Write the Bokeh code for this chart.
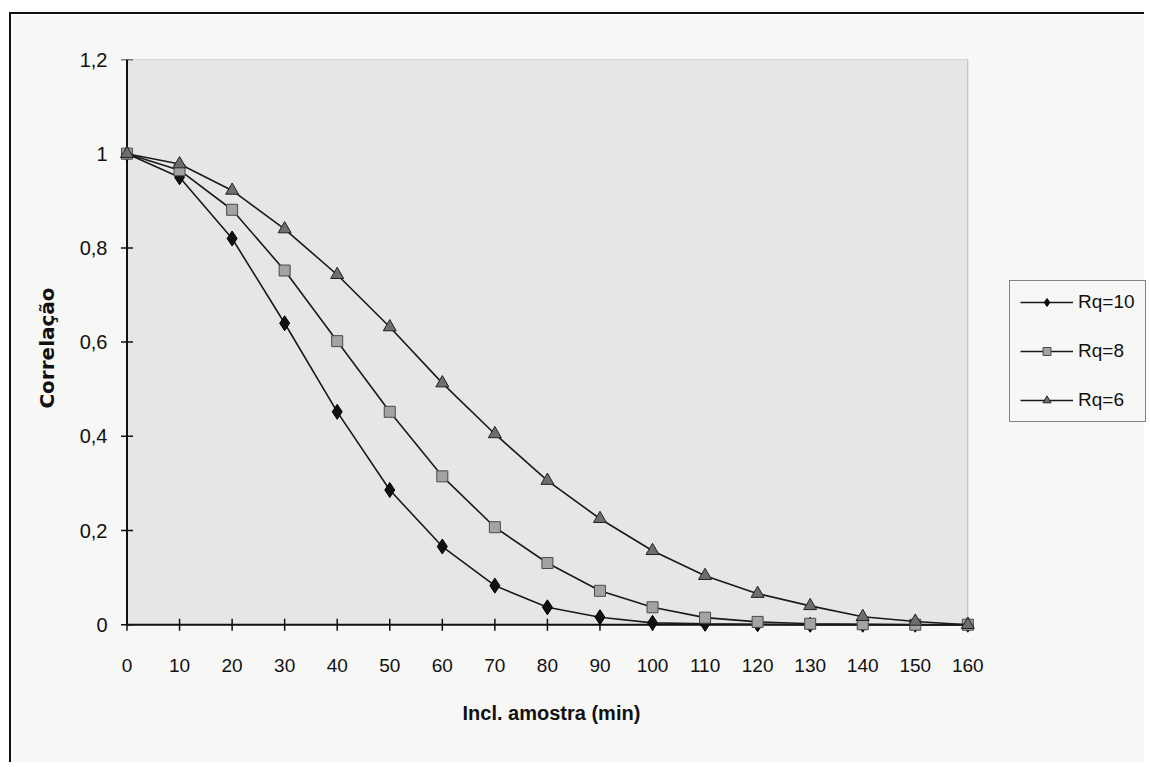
import math
from bokeh.plotting import figure
from bokeh.models import Range1d, FixedTicker, BoxAnnotation, Legend, LegendItem, Title
from bokeh.embed import file_html
from bokeh.resources import INLINE

# ---- data ----
X = [0, 10, 20, 30, 40, 50, 60, 70, 80, 90, 100, 110, 120, 130, 140, 150, 160]
RQ10 = [1.0, 0.95, 0.82, 0.64, 0.452, 0.286, 0.166, 0.083, 0.037, 0.016,
        0.004, 0.002, 0.001, 0.0, 0.0, 0.0, 0.0]
RQ8 = [1.0, 0.965, 0.881, 0.752, 0.602, 0.452, 0.315, 0.207, 0.131, 0.072,
       0.037, 0.015, 0.006, 0.002, 0.001, 0.0, 0.0]
RQ6 = [1.0, 0.978, 0.922, 0.84, 0.743, 0.632, 0.513, 0.405, 0.306, 0.225,
       0.157, 0.104, 0.066, 0.040, 0.017, 0.007, 0.0]
SERIES_LABELS = ["Rq=10", "Rq=8", "Rq=6"]
Y_TICKS = [0, 0.2, 0.4, 0.6, 0.8, 1, 1.2]
Y_TICK_LABELS = ["0", "0,2", "0,4", "0,6", "0,8", "1", "1,2"]
X_TITLE = "Incl. amostra (min)"
Y_TITLE = "Correlação"

PAPER = "#f7f7f5"
PLOT_BG = "#e6e6e6"
INK = "#111111"
FONT = "Liberation Sans"

# frame reaches the right edge so that the legend (inside the frame) is not clipped;
# the grey plot area itself only covers 0..160
p = figure(width=1135, height=750, output_backend="svg", toolbar_location=None,
           x_range=Range1d(X[0] - 2, 194), y_range=Range1d(-0.025, Y_TICKS[-1]),
           min_border_left=105, min_border_right=0, min_border_top=45,
           min_border_bottom=128, margin=(12, 0, 0, 9),
           styles={"border-left": "2px solid #111", "border-top": "2px solid #111"})
p.background_fill_color = PAPER
p.border_fill_color = PAPER
p.outline_line_color = None
p.xgrid.visible = False
p.ygrid.visible = False

# grey plot area
p.add_layout(BoxAnnotation(left=X[0], right=X[-1], bottom=Y_TICKS[0], top=Y_TICKS[-1],
                           fill_color=PLOT_BG, fill_alpha=1.0, line_color="#444",
                           line_width=1, level="underlay"))

# axis lines and crossing tick marks (drawn at data zero)
p.segment(x0=X[0], y0=Y_TICKS[0], x1=X[-1], y1=Y_TICKS[0], line_color=INK, line_width=2)
p.segment(x0=X[0], y0=Y_TICKS[0], x1=X[0], y1=Y_TICKS[-1], line_color=INK, line_width=2)
p.scatter(X, [Y_TICKS[0]] * len(X), marker="dash", angle=math.pi / 2, size=12,
          line_color=INK, line_width=1.5)
p.scatter([X[0]] * len(Y_TICKS), Y_TICKS, marker="dash", size=12,
          line_color=INK, line_width=1.5)

# axes carry the labels only
xa = p.xaxis[0]
xa.ticker = FixedTicker(ticks=X)
xa.axis_line_color = None
xa.major_tick_line_color = None
xa.minor_tick_line_color = None
xa.major_tick_in = 0
xa.major_tick_out = 0
xa.major_label_standoff = 22
xa.major_label_text_font = FONT
xa.major_label_text_font_size = "19px"
xa.major_label_text_color = INK

# x title centred under the grey area
p.add_layout(Title(text=X_TITLE, align="left", offset=346, standoff=50,
                   text_font=FONT, text_font_style="bold", text_font_size="20px",
                   text_color=INK), "below")

ya = p.yaxis[0]
ya.ticker = FixedTicker(ticks=Y_TICKS)
ya.major_label_overrides = {t: l for t, l in zip(Y_TICKS, Y_TICK_LABELS)}
ya.axis_line_color = None
ya.major_tick_line_color = None
ya.minor_tick_line_color = None
ya.major_tick_in = 0
ya.major_tick_out = 0
ya.major_label_standoff = 9
ya.major_label_text_font = FONT
ya.major_label_text_font_size = "20px"
ya.major_label_text_color = INK
ya.axis_label = Y_TITLE
ya.axis_label_text_font = "DejaVu Sans"
ya.axis_label_text_font_style = "bold"
ya.axis_label_text_font_size = "20px"
ya.axis_label_text_color = INK
ya.axis_label_standoff = 18

styles = [
    dict(marker="diamond", size=15, fill_color="#111111", line_color="#000000"),
    dict(marker="square", size=11, fill_color="#a3a3a3", line_color="#4a4a4a"),
    dict(marker="triangle", size=13, fill_color="#6e6e6e", line_color="#222222"),
]
items = []
for ys, lab, st in zip([RQ10, RQ8, RQ6], SERIES_LABELS, styles):
    lr = p.line(X, ys, line_color="#1a1a1a", line_width=1.6)
    sr = p.scatter(X, ys, marker=st["marker"], size=st["size"],
                   fill_color=st["fill_color"], line_color=st["line_color"], line_width=1)
    items.append(LegendItem(label=lab, renderers=[lr, sr]))

legend = Legend(items=items, location=(893, 214), orientation="vertical",
                border_line_color=INK, border_line_width=1.5,
                background_fill_color=PAPER, background_fill_alpha=1.0,
                label_text_font=FONT, label_text_font_size="19px",
                label_text_color=INK, glyph_width=53, glyph_height=20,
                label_standoff=5, spacing=27, padding=10, margin=0)
p.add_layout(legend)

open("out.html", "w").write(file_html(p, INLINE))
